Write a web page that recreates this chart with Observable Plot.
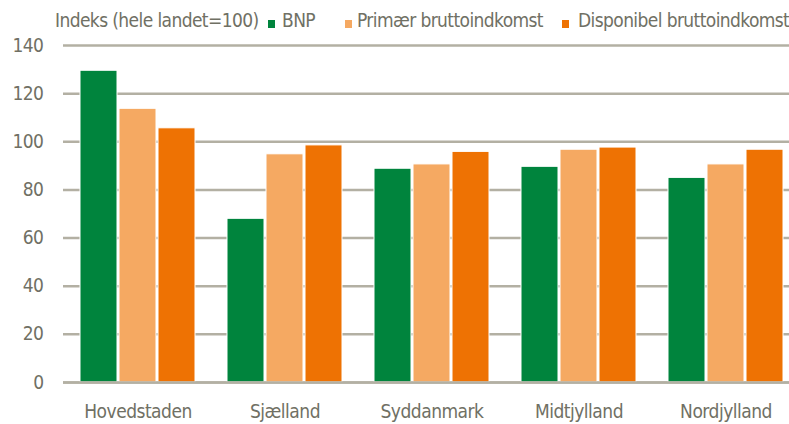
<!DOCTYPE html>
<html><head><meta charset="utf-8">
<script src="https://cdn.jsdelivr.net/npm/d3@7"></script>
<script src="https://cdn.jsdelivr.net/npm/@observablehq/plot@0.6"></script>
<style>
html,body{margin:0;padding:0;background:#fff;overflow:hidden;width:789px;height:424px}
#chart{position:relative;width:789px;height:424px;overflow:hidden;font-family:"Liberation Sans Narrow","Arial Narrow","DejaVu Sans Condensed",sans-serif;color:#707064}
#legend{position:absolute;left:0;top:0;height:40px;width:789px;font-size:19px;letter-spacing:-0.6px;white-space:nowrap}
#legend span{position:absolute;top:9px}
#legend i{position:absolute;top:20px;width:7px;height:8px}
#plot{position:absolute;left:0;top:34px;width:800px}
#plot svg{max-width:none !important;height:390px !important}
#plot svg text{letter-spacing:-0.5px}
</style></head>
<body><div id="chart"><div id="legend"></div><div id="plot"></div></div>
<script>
const regions = ["Hovedstaden","Sjælland","Syddanmark","Midtjylland","Nordjylland"];
const series = ["BNP","Primær bruttoindkomst","Disponibel bruttoindkomst"];
const bnp = [129.5, 68.0, 88.8, 89.6, 85.0];
const primaer = [113.7, 94.8, 90.6, 96.7, 90.6];
const disponibel = [105.6, 98.5, 95.8, 97.6, 96.7];
const yTicks = [0,20,40,60,80,100,120,140];
const yLabel = "Indeks (hele landet=100)";
const colors = ["#00843d","#f5a962","#ee7203"];

const values = [bnp, primaer, disponibel];
const rows = series.map((s,i)=>regions.map((r,j)=>({region:r, series:s, value:values[i][j]})));

// legend
const lg = document.getElementById("legend");
const lbl = document.createElement("span"); lbl.textContent = yLabel; lbl.style.left="55px"; lg.appendChild(lbl);
const sw = [268,345,562], tx=[282,357,578];
series.forEach((s,i)=>{
  const b=document.createElement("i"); b.style.left=sw[i]+"px"; b.style.background=colors[i]; lg.appendChild(b);
  const t=document.createElement("span"); t.textContent=s; t.style.left=tx[i]+"px"; lg.appendChild(t);
});

const insets = [[0,78],[39,39],[78,0]];
const grid = "#b3b0a3";
const chart = Plot.plot({
  width: 800, height: 390,
  marginLeft: 63, marginRight: 0, marginTop: 11, marginBottom: 42,
  style: {fontFamily:'"Liberation Sans Narrow","Arial Narrow","DejaVu Sans Condensed",sans-serif', fontSize:"19px", color:"#707064", background:"#fff", maxWidth:"none"},
  x: {domain: regions, paddingInner: 0.22, paddingOuter: 0.11, label: null, tickSize: 0, tickPadding: 22},
  y: {domain: [0,140], ticks: yTicks, label: null, tickSize: 0, tickPadding: 20, tickFormat: d=>String(d)},
  marks: [
    Plot.ruleY(yTicks, {stroke: grid, strokeWidth: 2.5}),
    ...rows.map((d,i)=>Plot.barY(d, {x:"region", y:"value", fill: colors[i], stroke:"#fff", strokeWidth:1, insetLeft: insets[i][0], insetRight: insets[i][1]})),
    Plot.ruleY([0], {stroke: grid, strokeWidth: 2.5})
  ]
});
document.getElementById("plot").appendChild(chart);
</script></body></html>
